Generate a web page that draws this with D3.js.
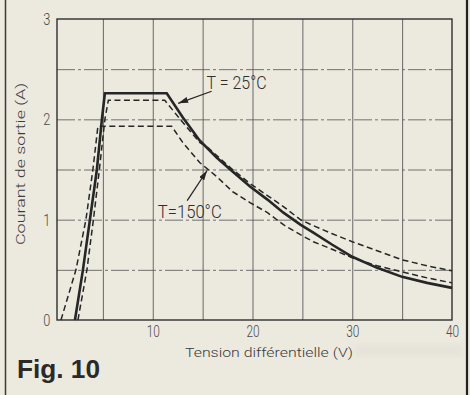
<!DOCTYPE html>
<html>
<head>
<meta charset="utf-8">
<script src="https://cdn.jsdelivr.net/npm/d3@7"></script>
<style>
  html, body { margin: 0; padding: 0; background: #ece9df; }
  svg { display: block; }
</style>
</head>
<body>
<svg id="chart" width="470" height="395"></svg>
<script>
// Output current versus input-output differential voltage, at several junction temperatures.

// Axis labels and grid positions
const xTickValues = [10, 20, 30, 40];
const yTickValues = [0, 1, 2, 3];
const xGridValues = [5, 10, 15, 20, 25, 30, 35];
const yGridValues = [0.5, 1, 1.5, 2, 2.5];

// T = 25 °C (solid curve)
const voltsT25 = [2.2, 3.0, 3.7, 4.4, 4.9, 5.2, 11.4, 13.0, 14.7, 16.4, 18.0, 19.75, 21.5, 23.1, 24.8, 26.1, 28.0, 30.0, 32.5, 35.0, 37.5, 40.0];
const ampsT25  = [0,   0.5, 1.0, 1.5, 2.0, 2.26, 2.26, 2.02, 1.79, 1.62, 1.48, 1.33, 1.20, 1.07, 0.95, 0.87, 0.75, 0.63, 0.52, 0.43, 0.37, 0.32];

// Intermediate temperature (upper dashed curve)
const voltsMid = [2.5, 3.4, 4.05, 4.65, 5.2, 5.55, 11.2, 13.0, 14.7, 15.5, 18.0, 19.75, 21.5, 23.1, 24.8, 26.1, 28.0, 30.0, 32.5, 35.0, 37.5, 40.0];
const ampsMid  = [0,   0.5, 1.0,  1.5,  2.0, 2.19, 2.19, 1.97, 1.77, 1.72, 1.50, 1.36, 1.24, 1.13, 1.00, 0.94, 0.86, 0.78, 0.69, 0.60, 0.54, 0.49];

// T = 150 °C (lower dashed curve)
const voltsT150 = [0.8, 2.3, 3.3, 4.0, 4.5, 11.9, 13.0, 14.7, 16.4, 18.0, 19.75, 21.5, 23.1, 24.8, 26.1, 28.1, 30.0, 32.5, 35.0, 37.5, 40.0];
const ampsT150  = [0,   0.5, 1.0, 1.5, 1.93, 1.93, 1.77, 1.57, 1.43, 1.28, 1.17, 1.07, 0.95, 0.85, 0.78, 0.70, 0.62, 0.54, 0.48, 0.42, 0.37];

const svg = d3.select("#chart");
const W = 470, H = 395;
const plot = { left: 57, right: 452, top: 19, bottom: 320 };

// the frame's left edge sits a little to the right of 0 V
const x = d3.scaleLinear().domain([0.4, 40]).range([plot.left, plot.right]);
const y = d3.scaleLinear().domain([0, 3]).range([plot.bottom, plot.top]);

const ink = "#262626";
const labelFont = "Roboto, 'DejaVu Sans', sans-serif";

// page rules on either side
svg.append("line").attr("x1", 5.5).attr("x2", 5.5).attr("y1", 0).attr("y2", H)
  .attr("stroke", "#3a3a3a").attr("stroke-width", 1.5);
svg.append("line").attr("x1", 467).attr("x2", 467).attr("y1", 0).attr("y2", H)
  .attr("stroke", "#222").attr("stroke-width", 2.2);

// faint show-through band near the bottom right
const defs = svg.append("defs");
defs.append("filter").attr("id", "soft").append("feGaussianBlur").attr("stdDeviation", 3);
svg.append("rect").attr("x", 355).attr("y", 344).attr("width", 108).attr("height", 13)
  .attr("fill", "#9a9a9a").attr("opacity", 0.07).attr("filter", "url(#soft)");

// grid
const grid = svg.append("g");
grid.append("g")
  .attr("transform", `translate(0,${plot.bottom})`)
  .call(d3.axisBottom(x).tickValues(xGridValues).tickSize(-(plot.bottom - plot.top)).tickFormat(""))
  .call(g => g.select(".domain").remove())
  .call(g => g.selectAll("line").attr("stroke", "#505050").attr("stroke-width", 0.85));
grid.append("g")
  .attr("transform", `translate(${plot.left},0)`)
  .call(d3.axisLeft(y).tickValues(yGridValues).tickSize(-(plot.right - plot.left)).tickFormat(""))
  .call(g => g.select(".domain").remove())
  .call(g => g.selectAll("line").attr("stroke", "#5a5a5a").attr("stroke-width", 0.85)
    .attr("stroke-dasharray", "18,3,3,3"));

// frame
svg.append("rect")
  .attr("x", plot.left).attr("y", plot.top)
  .attr("width", plot.right - plot.left).attr("height", plot.bottom - plot.top)
  .attr("fill", "none").attr("stroke", "#2e2e2e").attr("stroke-width", 1.4);

// tick labels
svg.append("g")
  .attr("transform", `translate(0,${plot.bottom})`)
  .call(d3.axisBottom(x).tickValues(xTickValues).tickSize(0).tickPadding(5).tickFormat(d3.format("d")))
  .call(g => g.select(".domain").remove())
  .call(g => g.selectAll("text")
    .attr("font-family", labelFont).attr("font-weight", 300).attr("font-size", 17)
    .attr("fill", "#4a4a4a").attr("transform", "scale(0.7,1)"));

svg.append("g")
  .attr("transform", `translate(${plot.left},0)`)
  .call(d3.axisLeft(y).tickValues(yTickValues).tickSize(0).tickPadding(9).tickFormat(d3.format("d")))
  .call(g => g.select(".domain").remove())
  .call(g => g.selectAll("text")
    .attr("font-family", labelFont).attr("font-weight", 300).attr("font-size", 17)
    .attr("fill", "#4a4a4a").attr("transform", "scale(0.75,1)"));

// axis titles
svg.append("text")
  .attr("x", 185).attr("y", 357)
  .attr("font-family", labelFont).attr("font-weight", 300).attr("font-size", 12.5).attr("fill", "#3a3a3a")
  .attr("textLength", 168).attr("lengthAdjust", "spacingAndGlyphs")
  .text("Tension différentielle (V)");

svg.append("text")
  .attr("transform", "translate(25,164) rotate(-90)")
  .attr("text-anchor", "middle")
  .attr("font-family", labelFont).attr("font-weight", 300).attr("font-size", 12.5).attr("fill", "#3a3a3a")
  .attr("textLength", 162).attr("lengthAdjust", "spacingAndGlyphs")
  .text("Courant de sortie (A)");

// curves
const line = d3.line().x(d => x(d[0])).y(d => y(d[1])).curve(d3.curveLinear);
const zipped = (xs, ys) => xs.map((v, i) => [v, ys[i]]);

const curves = [
  { pts: zipped(voltsT150, ampsT150), width: 1.5, dash: "6,3.5" },
  { pts: zipped(voltsMid, ampsMid),   width: 1.5, dash: "6,3.5" },
  { pts: zipped(voltsT25, ampsT25),   width: 2.6, dash: null }
];
svg.append("g").selectAll("path").data(curves).join("path")
  .attr("d", d => line(d.pts))
  .attr("fill", "none")
  .attr("stroke", ink)
  .attr("stroke-width", d => d.width)
  .attr("stroke-dasharray", d => d.dash)
  .attr("stroke-linejoin", "miter");

// arrowhead
defs.append("marker")
  .attr("id", "head").attr("viewBox", "0 0 10 6")
  .attr("refX", 10).attr("refY", 3)
  .attr("markerWidth", 10).attr("markerHeight", 6)
  .attr("markerUnits", "userSpaceOnUse")
  .attr("orient", "auto")
  .append("path").attr("d", "M0,0 L10,3 L0,6 Z").attr("fill", ink);

// temperature callouts (positions in data units)
const callouts = [
  { text: "T = 25°C", tx: 15.4, ty: 2.30, len: 60, tail: [15.9, 2.28], tip: [12.55, 2.16] },
  { text: "T=150°C",  tx: 10.5, ty: 1.02, len: 64, tail: [13.45, 1.19], tip: [15.45, 1.49] }
];
const ann = svg.append("g");
ann.selectAll("line").data(callouts).join("line")
  .attr("x1", d => x(d.tail[0])).attr("y1", d => y(d.tail[1]))
  .attr("x2", d => x(d.tip[0])).attr("y2", d => y(d.tip[1]))
  .attr("stroke", ink).attr("stroke-width", 1.3)
  .attr("marker-end", "url(#head)");
ann.selectAll("text").data(callouts).join("text")
  .attr("x", d => x(d.tx)).attr("y", d => y(d.ty))
  .attr("font-family", labelFont).attr("font-weight", 300).attr("font-size", 17.5)
  .attr("fill", "#2e2e2e")
  .attr("textLength", d => d.len).attr("lengthAdjust", "spacingAndGlyphs")
  .text(d => d.text);

// figure number
svg.append("text")
  .attr("x", 17).attr("y", 378)
  .attr("font-family", "'Liberation Sans', Arial, sans-serif")
  .attr("font-weight", "bold").attr("font-size", 26)
  .attr("fill", "#2a2a2a")
  .attr("textLength", 83).attr("lengthAdjust", "spacingAndGlyphs")
  .text("Fig. 10");
</script>
</body>
</html>
